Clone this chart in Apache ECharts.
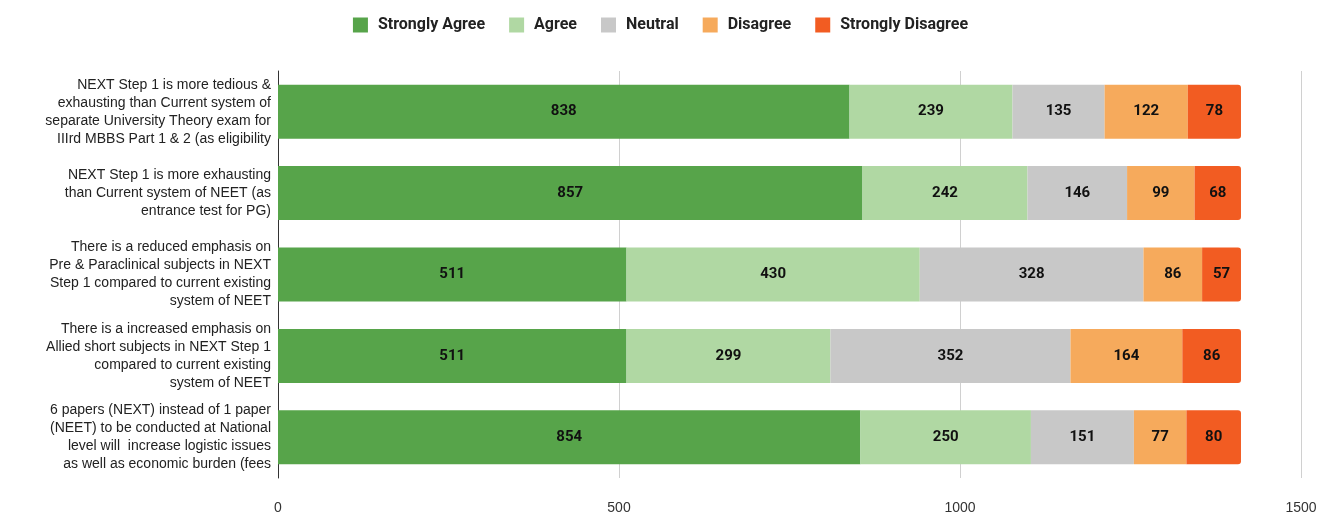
<!DOCTYPE html>
<html>
<head>
<meta charset="utf-8">
<script src="https://cdn.jsdelivr.net/npm/echarts@6/dist/echarts.min.js"></script>
<style>
  html, body { margin: 0; padding: 0; background: #fff; }
  #chart { width: 1321px; height: 517px; }
</style>
</head>
<body>
<div id="chart"></div>
<script>
  const categories = [
    'NEXT Step 1 is more tedious &\nexhausting than Current system of\nseparate University Theory exam for\nIIIrd MBBS Part 1 & 2 (as eligibility',
    'NEXT Step 1 is more exhausting\nthan Current system of NEET (as\nentrance test for PG)',
    'There is a reduced emphasis on\nPre & Paraclinical subjects in NEXT\nStep 1 compared to current existing\nsystem of NEET',
    'There is a increased emphasis on\nAllied short subjects in NEXT Step 1\ncompared to current existing\nsystem of NEET',
    '6 papers (NEXT) instead of 1 paper\n(NEET) to be conducted at National\nlevel will  increase logistic issues\nas well as economic burden (fees'
  ];
  const stronglyAgree = [838, 857, 511, 511, 854];
  const agree = [239, 242, 430, 299, 250];
  const neutral = [135, 146, 328, 352, 151];
  const disagree = [122, 99, 86, 164, 77];
  const stronglyDisagree = [78, 68, 57, 86, 80];
  const xTicks = [0, 500, 1000, 1500];

  const chart = echarts.init(document.getElementById('chart'));

  function seg(name, data, color, last) {
    return {
      name: name,
      type: 'bar',
      stack: 'total',
      data: data,
      barWidth: 54,
      itemStyle: {
        color: color,
        borderRadius: last ? [0, 3, 3, 0] : 0
      },
      label: {
        show: true,
        position: 'inside',
        color: '#111',
        fontFamily: 'Roboto',
        fontWeight: 'bold',
        fontSize: 15
      },
      emphasis: { disabled: true }
    };
  }

  const option = {
    animation: false,
    legend: {
      top: 12,
      left: 'center',
      itemWidth: 15,
      itemHeight: 15,
      itemGap: 24,
      icon: 'rect',
      textStyle: {
        fontFamily: 'Roboto',
        fontWeight: 'bold',
        fontSize: 16,
        color: '#222',
        padding: [0, 0, 0, 5]
      }
    },
    grid: {
      left: 278,
      right: 20,
      top: 71,
      bottom: 39
    },
    xAxis: {
      type: 'value',
      min: 0,
      max: 1500,
      interval: 500,
      axisLine: { show: false },
      axisTick: { show: false },
      splitLine: { lineStyle: { color: '#d0d0d0' } },
      axisLabel: {
        margin: 23,
        color: '#333',
        fontFamily: 'Liberation Sans',
        fontSize: 14,
        formatter: function (v) { return xTicks.indexOf(v) >= 0 ? String(v) : ''; }
      }
    },
    yAxis: {
      type: 'category',
      inverse: true,
      data: categories,
      axisLine: { show: true, lineStyle: { color: '#333', width: 1 } },
      axisTick: { show: false },
      axisLabel: {
        margin: 7,
        color: '#222',
        fontFamily: 'Liberation Sans',
        fontSize: 14,
        lineHeight: 18,
        align: 'right'
      }
    },
    series: [
      seg('Strongly Agree', stronglyAgree, '#57a44a'),
      seg('Agree', agree, '#b0d8a3'),
      seg('Neutral', neutral, '#c8c8c8'),
      seg('Disagree', disagree, '#f6aa5c'),
      seg('Strongly Disagree', stronglyDisagree, '#f25c22', true)
    ]
  };

  chart.setOption(option);
</script>
</body>
</html>
